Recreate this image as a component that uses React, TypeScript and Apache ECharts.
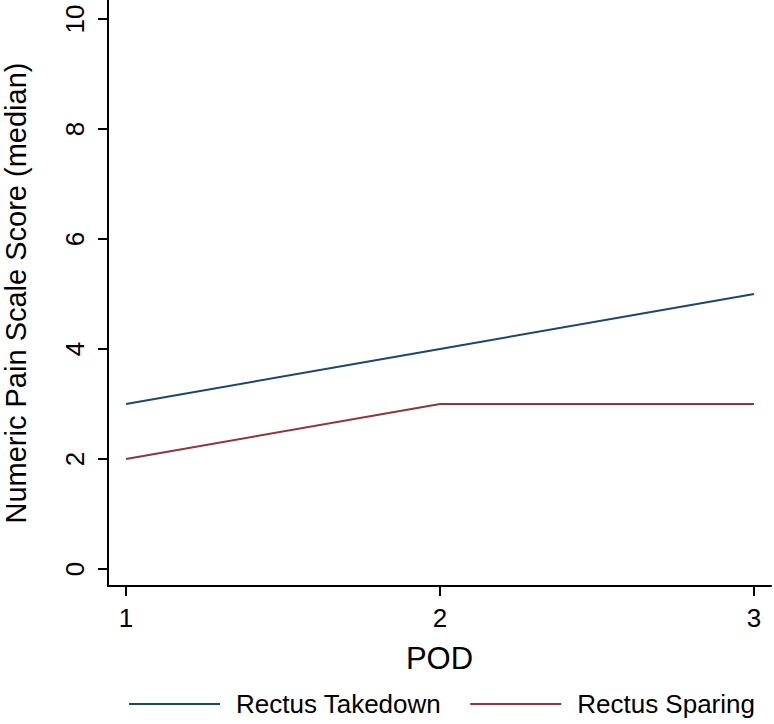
import React, { useEffect, useRef } from "react";
import * as echarts from "echarts";

const pod = [1, 2, 3];
const rectusTakedown = [3, 4, 5];
const rectusSparing = [2, 3, 3];
const yTicks = [0, 2, 4, 6, 8, 10];
const xTicks = [1, 2, 3];
const seriesNames = ["Rectus Takedown", "Rectus Sparing"];

const FONT = "Liberation Sans, Arial, Helvetica, sans-serif";

export default function App() {
  const ref = useRef<HTMLDivElement>(null);
  useEffect(() => {
    if (!ref.current) return;
    const chart = echarts.init(ref.current, null, { renderer: "svg" });
    const toPairs = (vals: number[]) => pod.map((x, i) => [x, vals[i]]);
    chart.setOption({
      animation: false,
      backgroundColor: "#ffffff",
      textStyle: { fontFamily: FONT, color: "#000" },
      grid: { left: 108, right: 3, top: 0, bottom: 138, containLabel: false, outerBoundsMode: "none" },
      xAxis: {
        type: "value",
        min: 0.9427,
        max: 3.054,
        name: "POD",
        nameLocation: "middle",
        nameGap: 57,
        nameTextStyle: { fontSize: 31, color: "#000", fontFamily: FONT },
        axisLine: { onZero: false, lineStyle: { color: "#000", width: 2 } },
        axisTick: { customValues: xTicks, length: 10, lineStyle: { color: "#000", width: 2 } },
        axisLabel: { customValues: xTicks, fontSize: 26, color: "#000", margin: 19, fontFamily: FONT },
        splitLine: { show: false },
      },
      yAxis: {
        type: "value",
        min: -0.309,
        max: 10.345,
        name: "Numeric Pain Scale Score (median)",
        nameLocation: "middle",
        nameGap: 77,
        nameTextStyle: { fontSize: 29, lineHeight: 30, color: "#000", fontFamily: FONT },
        axisLine: { onZero: false, lineStyle: { color: "#000", width: 2 } },
        axisTick: { customValues: yTicks, length: 10, lineStyle: { color: "#000", width: 2 } },
        axisLabel: { customValues: yTicks, rotate: 90, fontSize: 26, color: "#000", margin: 20, fontFamily: FONT },
        splitLine: { show: false },
      },
      legend: {
        left: 124,
        top: 686,
        itemWidth: 91,
        itemHeight: 2,
        itemGap: 29,
        data: seriesNames.map((n) => ({ name: n, icon: "rect" })),
        textStyle: { fontSize: 26, color: "#000", fontFamily: FONT, padding: [0, 0, 0, 11] },
      },
      series: [
        {
          name: seriesNames[0],
          type: "line",
          data: toPairs(rectusTakedown),
          showSymbol: false,
          color: "#1a476f",
          lineStyle: { color: "#1a476f", width: 2 },
        },
        {
          name: seriesNames[1],
          type: "line",
          data: toPairs(rectusSparing),
          showSymbol: false,
          color: "#90353b",
          lineStyle: { color: "#90353b", width: 2 },
        },
      ],
    });
    return () => chart.dispose();
  }, []);
  return (
    <div
      ref={ref}
      style={{ position: "absolute", left: 0, top: 0, width: 774, height: 724 }}
    />
  );
}
